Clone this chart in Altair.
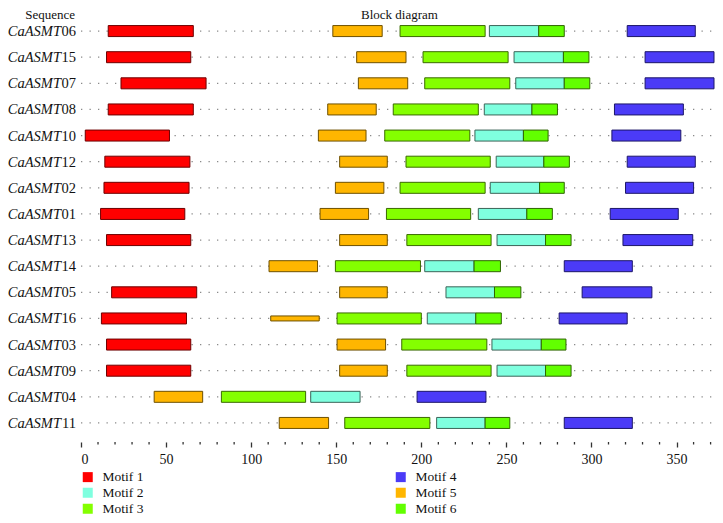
import altair as alt
import pandas as pd

seqs = ["CaASMT06", "CaASMT15", "CaASMT07", "CaASMT08", "CaASMT10", "CaASMT12",
        "CaASMT02", "CaASMT01", "CaASMT13", "CaASMT14", "CaASMT05", "CaASMT16",
        "CaASMT03", "CaASMT09", "CaASMT04", "CaASMT11"]

# (start, end) per sequence, None = motif absent
motif1 = [(16, 66), (15, 64.5), (23.5, 73.5), (16, 66), (2.5, 52), (14, 64),
          (13.5, 63.5), (11.5, 61), (15, 64.5), None, (18, 68), (12, 62),
          (15, 64.5), (15, 64.5), None, None]
motif2 = [(240, 269), (254.5, 283.5), (255.5, 284), (237, 265), (231.5, 260), (244, 272),
          (240.5, 269.5), (233.5, 262), (244.5, 273), (202, 231), (214.5, 243), (203.5, 232),
          (241.5, 270.5), (244.5, 273), (135, 164), (209, 237.5)]
motif3 = [(187.5, 237.5), (201, 251), (202, 252), (183.5, 233.5), (178.5, 228.5), (191, 240.5),
          (187.5, 237.5), (179.5, 229), (191.5, 241), (149.5, 199.5), None, (150.5, 200),
          (188.5, 238.5), (191.5, 241), (82.5, 132), (155, 205)]
motif4 = [(321, 361), (331.5, 372), (331.5, 372), (313.5, 354), (312, 352.5), (321, 361),
          (320, 360), (311, 351), (318.5, 359.5), (284, 324), (294.5, 335.5), (281, 321),
          None, None, (197.5, 238), (284, 324)]
motif5 = [(148, 177), (162, 191), (163, 192), (145, 173.5), (139.5, 167.5), (152, 180),
          (149.5, 178), (140.5, 169), (152, 180), (110.5, 139), (152, 180), (111.5, 140),
          (150.5, 179), (152, 180), (43, 71.5), (116.5, 145.5)]
motif6 = [(269, 284), (283.5, 298.5), (284, 299), (265, 280), (260, 274.5), (272, 287),
          (269.5, 284), (262, 277), (273, 288), (231, 246.5), (243, 258.5), (232, 247),
          (270.5, 285), (273, 288), None, (237.5, 252)]

thin_segments = [("CaASMT16", "Motif 5")]
seq_length = 371
major_ticks = list(range(0, 351, 50))
minor_ticks = [v for v in range(0, 371, 10) if v % 50 != 0]

motif_names = ["Motif 1", "Motif 2", "Motif 3", "Motif 4", "Motif 5", "Motif 6"]
motif_data = [motif1, motif2, motif3, motif4, motif5, motif6]
fills = {"Motif 1": "#FF0000", "Motif 2": "#7FFFDF", "Motif 3": "#84FF00",
         "Motif 4": "#4B3BF7", "Motif 5": "#FFB600", "Motif 6": "#62FF00"}
strokes = {"Motif 1": "#6E0000", "Motif 2": "#3C6458", "Motif 3": "#3A6A00",
           "Motif 4": "#1C1668", "Motif 5": "#6E5000", "Motif 6": "#2E6400"}
legend_order = motif_names

rows = []
for name, arr in zip(motif_names, motif_data):
    for s, seg in zip(seqs, arr):
        if seg is None:
            continue
        rows.append({"seq": s, "motif": name, "start": seg[0], "end": seg[1],
                     "thin": (s, name) in thin_segments})
bars = pd.DataFrame(rows)

lines = pd.DataFrame({"seq": seqs, "lo": [0] * len(seqs), "hi": [seq_length] * len(seqs)})
labels = pd.DataFrame({"seq": seqs, "prefix": [s[:6] for s in seqs], "num": [s[6:] for s in seqs]})
minor = pd.DataFrame({"v": minor_ticks})

FONT = "Liberation Serif"
W, H = 633, 418

xscale = alt.Scale(domain=[0, 372], nice=False, zero=False)
xaxis = alt.Axis(title=None, values=major_ticks, domain=False, grid=False, labelOverlap=False,
                 labelFont=FONT, labelFontSize=14, labelColor="#111", labelPadding=5,
                 tickColor="#333", tickWidth=1.3, tickSize=5, offset=6)
yenc = alt.Y("seq:N", sort=seqs, axis=None, scale=alt.Scale(paddingInner=0, paddingOuter=0))

dots = alt.Chart(lines).mark_rule(color="#8a8a8a", strokeDash=[1.3, 7.2], strokeWidth=1.2).encode(
    x=alt.X("lo:Q", scale=xscale, axis=xaxis),
    x2="hi:Q",
    y=yenc,
)

color = alt.Color("motif:N",
                  scale=alt.Scale(domain=legend_order, range=[fills[m] for m in legend_order]),
                  legend=alt.Legend(title=None, orient="none", legendX=0, legendY=452,
                                    columns=2, columnPadding=250, rowPadding=1,
                                    symbolType="square", symbolSize=100, symbolStrokeWidth=0,
                                    labelFont=FONT, labelFontSize=13.5, labelColor="#111",
                                    labelOffset=8, padding=0))
stroke = alt.Stroke("motif:N",
                    scale=alt.Scale(domain=legend_order, range=[strokes[m] for m in legend_order]),
                    legend=None)

thick = alt.Chart(bars).transform_filter("!datum.thin").mark_bar(height=11, strokeWidth=1).encode(
    x=alt.X("start:Q", scale=xscale, axis=xaxis),
    x2="end:Q",
    y=yenc,
    color=color,
    stroke=stroke,
)
thin = alt.Chart(bars).transform_filter("datum.thin").mark_bar(height=5, strokeWidth=1).encode(
    x=alt.X("start:Q", scale=xscale, axis=xaxis),
    x2="end:Q",
    y=yenc,
    color=color,
    stroke=stroke,
)

minor_layer = alt.Chart(minor).mark_rule(color="#333", strokeWidth=1.3).encode(
    x=alt.X("v:Q", scale=xscale, axis=xaxis),
    y=alt.value(H + 6),
    y2=alt.value(H + 8.5),
)

pre = alt.Chart(labels).mark_text(align="right", baseline="middle", font=FONT, fontSize=14.5,
                                  fontStyle="italic", color="#111", dy=1).encode(
    y=yenc, x=alt.value(-20), text="prefix:N")
num = alt.Chart(labels).mark_text(align="right", baseline="middle", font=FONT, fontSize=14.5,
                                  color="#111", dy=1).encode(
    y=yenc, x=alt.value(-5), text="num:N")

headers = pd.DataFrame({"t": ["Sequence", "Block diagram"], "pos": ["left", "mid"]})
h1 = alt.Chart(headers).transform_filter("datum.pos === 'left'").mark_text(
    align="right", baseline="middle", font=FONT, fontSize=13, color="#111").encode(
    x=alt.value(-6), y=alt.value(-3), text="t:N")
h2 = alt.Chart(headers).transform_filter("datum.pos === 'mid'").mark_text(
    align="left", baseline="middle", font=FONT, fontSize=13, color="#111").encode(
    x=alt.value(280), y=alt.value(-3), text="t:N")

chart = alt.layer(dots, thick, thin, minor_layer, pre, num, h1, h2).properties(
    width=W, height=H,
    autosize=alt.AutoSizeParams(type="none"),
    padding={"left": 73, "top": 10, "right": 1, "bottom": 79},
    background="white",
).configure_view(stroke=None)

chart.save("out.html", embed_options={"renderer": "svg", "actions": False})
